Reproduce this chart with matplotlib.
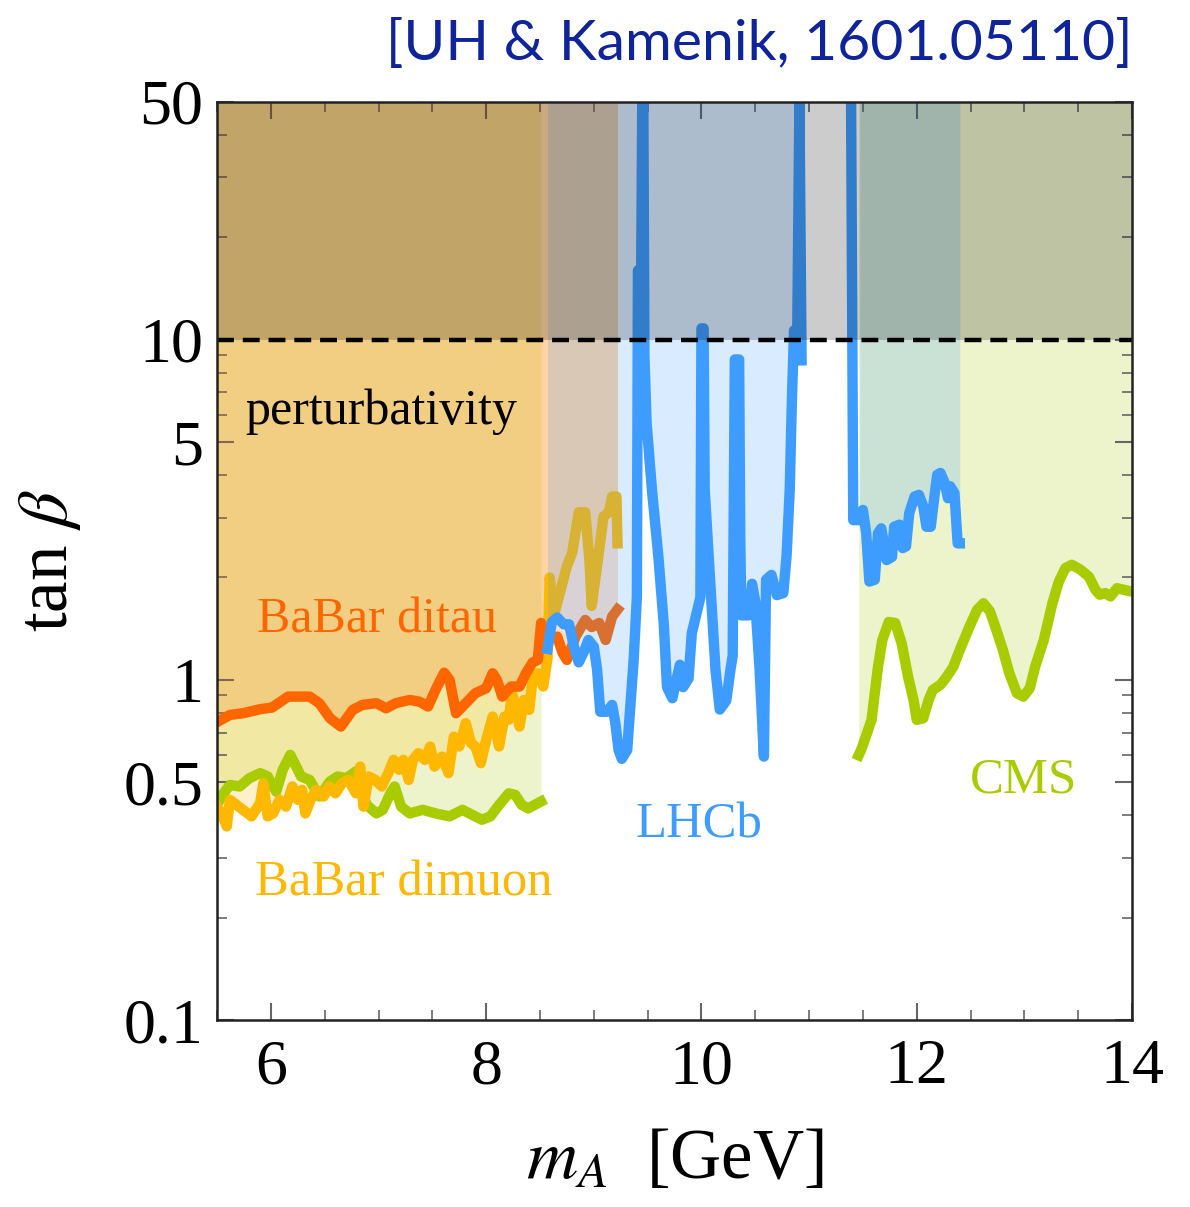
import matplotlib
matplotlib.use("Agg")
import matplotlib.pyplot as plt
from matplotlib.ticker import FixedLocator, NullFormatter, FixedFormatter

# ---------------- data ----------------
ditau_x = [5.48, 5.62, 5.74, 5.90, 6.01, 6.16, 6.36, 6.45, 6.55, 6.65, 6.76, 6.85, 6.98, 7.07,
           7.16, 7.29, 7.38, 7.46, 7.53, 7.61, 7.66, 7.72, 7.81, 7.90, 8.00, 8.06, 8.10, 8.15,
           8.23, 8.31, 8.37, 8.43, 8.48, 8.51, 8.55, 8.66, 8.71, 8.75, 8.83, 8.92, 8.98, 9.05,
           9.11, 9.17, 9.22]
ditau_y = [0.746, 0.789, 0.798, 0.820, 0.829, 0.893, 0.893, 0.854, 0.771, 0.729, 0.816, 0.844,
           0.854, 0.825, 0.854, 0.873, 0.863, 0.835, 0.935, 1.05, 1.00, 0.798, 0.854, 0.914,
           0.945, 1.046, 1.00, 0.893, 0.956, 0.956, 1.046, 1.124, 1.145, 1.47, 1.31, 1.34, 1.20,
           1.145, 1.34, 1.50, 1.43, 1.47, 1.31, 1.535, 1.61]

dimuon_x = [5.48, 5.54, 5.59, 5.62, 5.68, 5.74, 5.82, 5.90, 5.93, 5.97, 6.02, 6.08, 6.14, 6.20,
            6.25, 6.29, 6.32, 6.37, 6.42, 6.49, 6.54, 6.60, 6.66, 6.72, 6.79, 6.83, 6.86, 6.91,
            6.97, 7.03, 7.09, 7.14, 7.19, 7.23, 7.28, 7.32, 7.37, 7.43, 7.48, 7.52, 7.59, 7.65,
            7.70, 7.75, 7.81, 7.86, 7.90, 7.95, 8.00, 8.06, 8.12, 8.17, 8.21, 8.24, 8.31, 8.35,
            8.40, 8.43, 8.48, 8.53, 8.57, 8.59, 8.63, 8.69, 8.75, 8.80, 8.86, 8.92, 8.96, 8.98,
            9.03, 9.09, 9.14, 9.17, 9.21, 9.22]
dimuon_y = [0.434, 0.405, 0.371, 0.444, 0.429, 0.415, 0.397, 0.434, 0.497, 0.397, 0.405, 0.444,
            0.424, 0.486, 0.444, 0.475, 0.405, 0.444, 0.475, 0.454, 0.486, 0.464, 0.497, 0.508,
            0.464, 0.556, 0.424, 0.520, 0.508, 0.486, 0.532, 0.582, 0.544, 0.582, 0.508, 0.582,
            0.609, 0.582, 0.637, 0.556, 0.595, 0.532, 0.681, 0.637, 0.746, 0.651, 0.637, 0.569,
            0.666, 0.780, 0.637, 0.780, 0.763, 0.914, 0.729, 0.873, 0.816, 1.00, 1.046, 0.956,
            1.16, 2.00, 1.55, 1.83, 2.16, 2.37, 3.11, 3.11, 2.23, 1.65, 2.16, 3.02, 3.11, 3.46,
            3.46, 2.52]

cms1_x = [5.48, 5.56, 5.62, 5.71, 5.80, 5.90, 5.97, 6.05, 6.11, 6.18, 6.22, 6.28, 6.36, 6.45,
          6.55, 6.62, 6.70, 6.79, 6.89, 6.98, 7.04, 7.11, 7.15, 7.21, 7.29, 7.41, 7.53, 7.66,
          7.78, 7.87, 7.96, 8.04, 8.12, 8.21, 8.27, 8.33, 8.39, 8.51]
cms1_y = [0.419, 0.464, 0.491, 0.486, 0.514, 0.532, 0.520, 0.469, 0.544, 0.602, 0.569, 0.520,
          0.508, 0.454, 0.503, 0.520, 0.514, 0.538, 0.429, 0.405, 0.415, 0.464, 0.486, 0.424,
          0.405, 0.415, 0.405, 0.397, 0.415, 0.401, 0.388, 0.397, 0.429, 0.464, 0.459, 0.429,
          0.419, 0.439]

cms2_x = [11.46, 11.49, 11.58, 11.64, 11.68, 11.74, 11.80, 11.86, 11.92, 11.97, 12.00, 12.06,
          12.11, 12.15, 12.22, 12.28, 12.34, 12.40, 12.49, 12.56, 12.62, 12.68, 12.74, 12.80,
          12.86, 12.93, 12.99, 13.05, 13.10, 13.18, 13.26, 13.32, 13.38, 13.44, 13.52, 13.60,
          13.66, 13.70, 13.75, 13.80, 13.86, 13.99]
cms2_y = [0.60, 0.630, 0.763, 1.094, 1.31, 1.48, 1.47, 1.28, 1.02, 0.873, 0.763, 0.771, 0.873,
          0.935, 0.967, 1.023, 1.094, 1.225, 1.435, 1.606, 1.68, 1.59, 1.40, 1.225, 1.046,
          0.914, 0.893, 0.945, 1.094, 1.31, 1.68, 1.946, 2.13, 2.18, 2.11, 2.01, 1.84, 1.78,
          1.80, 1.76, 1.86, 1.82]

lhcb1_x = [8.57, 8.61, 8.66, 8.72, 8.77, 8.815, 8.86, 8.91, 8.95, 9.00, 9.03, 9.06, 9.12, 9.17,
           9.20, 9.23, 9.26, 9.31, 9.34, 9.37, 9.40, 9.41, 9.44, 9.45, 9.46, 9.47, 9.49, 9.54,
           9.60, 9.65, 9.68, 9.73, 9.77, 9.80, 9.83, 9.88, 9.91, 9.96, 9.99, 10.00, 10.02,
           10.03, 10.08, 10.13, 10.17, 10.23, 10.27, 10.29, 10.31, 10.35, 10.36, 10.37, 10.44,
           10.47, 10.50, 10.54, 10.58, 10.60, 10.65, 10.70, 10.76, 10.79, 10.82, 10.84, 10.86,
           10.89, 10.91, 10.93]
lhcb1_y = [1.233, 1.479, 1.525, 1.457, 1.457, 1.252, 1.126, 1.214, 1.310, 1.252, 1.075, 0.806,
           0.806, 0.844, 0.747, 0.622, 0.586, 0.622, 0.844, 1.143, 1.75, 16.0, 16.0, 50.0, 50.0,
           9.0, 5.71, 3.62, 2.297, 1.457, 0.952, 0.883, 1.01, 1.108, 0.952, 1.01, 1.371, 1.596,
           1.75, 10.8, 10.8, 3.62, 1.97, 1.075, 0.818, 0.869, 1.075, 1.178, 8.75, 8.75, 2.69,
           1.548, 1.548, 1.916, 1.697, 1.075, 0.595, 1.97, 2.035, 1.775, 1.80, 2.297, 3.62, 6.65,
           10.65, 10.65, 50.0, 8.7]

lhcb2_x = [11.39, 11.41, 11.47, 11.50, 11.53, 11.56, 11.61, 11.64, 11.67, 11.72, 11.77, 11.79,
           11.84, 11.87, 11.90, 11.93, 11.98, 12.02, 12.06, 12.09, 12.13, 12.16, 12.19, 12.22,
           12.26, 12.29, 12.31, 12.35, 12.38, 12.40]
lhcb2_y = [50.0, 2.95, 2.95, 3.16, 2.70, 1.946, 1.97, 2.70, 2.79, 2.25, 2.30, 2.82, 2.86, 2.44,
           2.47, 3.09, 3.46, 3.50, 3.24, 2.82, 2.82, 3.38, 4.01, 4.06, 3.79, 3.42, 3.71, 3.54,
           2.52, 2.52]

y_ticks = [0.1, 0.5, 1, 5, 10, 50]
y_tick_labels = ["0.1", "0.5", "1", "5", "10", "50"]
x_ticks = [6, 8, 10, 12, 14]
perturbativity_limit = 10

# ---------------- style ----------------
plt.rcParams['font.family'] = ['Liberation Serif', 'DejaVu Serif']
plt.rcParams['mathtext.fontset'] = 'stix'

c_ditau = '#ff6600'
c_dimuon = '#ffb800'
c_cms = '#a8cc00'
c_lhcb = '#3f9cff'
LW = 7.5
ytop = 50

fig = plt.figure(figsize=(11.9, 12.07), dpi=100)
ax = fig.add_axes([0.1824, 0.1549, 0.7689, 0.7606])

# fills
ax.fill_between(cms1_x, cms1_y, ytop, color=c_cms, alpha=0.2, lw=0, zorder=1)
ax.fill_between(cms2_x, cms2_y, ytop, color=c_cms, alpha=0.2, lw=0, zorder=1)
ax.fill_between(dimuon_x, dimuon_y, ytop, color=c_dimuon, alpha=0.2, lw=0, zorder=1.5)
ax.fill_between(ditau_x, ditau_y, ytop, color=c_ditau, alpha=0.2, lw=0, zorder=1.6)

# lines
ax.plot(cms1_x, cms1_y, color=c_cms, lw=LW, zorder=2)
ax.plot(cms2_x, cms2_y, color=c_cms, lw=LW, zorder=2)
ax.plot(dimuon_x, dimuon_y, color=c_dimuon, lw=LW, zorder=2.5)
ax.plot(ditau_x, ditau_y, color=c_ditau, lw=LW, zorder=2.6)

# LHCb
ax.fill_between(lhcb1_x, lhcb1_y, ytop, color=c_lhcb, alpha=0.2, lw=0, zorder=3)
ax.fill_between(lhcb2_x[2:], lhcb2_y[2:], ytop, color=c_lhcb, alpha=0.2, lw=0, zorder=3)
ax.plot(lhcb1_x, lhcb1_y, color=c_lhcb, lw=LW, zorder=4)
ax.plot(lhcb2_x, lhcb2_y, color=c_lhcb, lw=LW, zorder=4)

# perturbativity
ax.axhspan(perturbativity_limit, ytop, color='black', alpha=0.2, lw=0, zorder=5)
ax.axhline(perturbativity_limit, color='black', lw=3.2, ls=(0, (3.8, 2.0)), zorder=6)

ax.set_yscale('log')
ax.set_xlim(5.5, 14)
ax.set_ylim(0.1, 50)

ax.yaxis.set_major_locator(FixedLocator(y_ticks))
ax.yaxis.set_major_formatter(FixedFormatter(y_tick_labels))
minor_y = [0.2, 0.3, 0.4, 0.6, 0.7, 0.8, 0.9, 2, 3, 4, 6, 7, 8, 9, 20, 30, 40]
ax.yaxis.set_minor_locator(FixedLocator(minor_y))
ax.yaxis.set_minor_formatter(NullFormatter())
ax.xaxis.set_major_locator(FixedLocator(x_ticks))
ax.xaxis.set_minor_locator(FixedLocator([5.5 + 0.5 * i for i in range(18)]))

ax.tick_params(which='both', direction='in', top=True, right=True, color='#666666')
ax.tick_params(which='major', length=12, width=1.5, labelsize=46, pad=10)
ax.tick_params(which='minor', length=7, width=1.2)
ax.tick_params(axis='x', which='major', pad=14)
for s in ax.spines.values():
    s.set_linewidth(1.8)
    s.set_color('#222222')
    s.set_zorder(10)

ax.set_xlabel(r"$m_A$  [GeV]", fontsize=51)
ax.set_ylabel(r"tan $\beta$", fontsize=51)
ax.xaxis.set_label_coords(0.5, -0.118)
ax.yaxis.set_label_coords(-0.146, 0.50)

# annotations
ax.text(5.76, 6.14, "perturbativity", fontsize=36, color='black', ha='left', va='center', zorder=8)
ax.text(5.87, 1.50, "BaBar ditau", fontsize=36, color=c_ditau, ha='left', va='center', zorder=8)
ax.text(5.85, 0.253, "BaBar dimuon", fontsize=36.5, color=c_dimuon, ha='left', va='center', zorder=8)
ax.text(9.39, 0.375, "LHCb", fontsize=36.5, color=c_lhcb, ha='left', va='center', zorder=8)
ax.text(12.49, 0.508, "CMS", fontsize=36.5, color=c_cms, ha='left', va='center', zorder=8)

fig.text(0.952, 1 - 45 / 1207, "[UH & Kamenik, 1601.05110]", fontsize=41,
         family=['Lato', 'Liberation Sans', 'DejaVu Sans'],
         color='#0f2499', ha='right', va='center')

fig.savefig("out.png", dpi=100)
